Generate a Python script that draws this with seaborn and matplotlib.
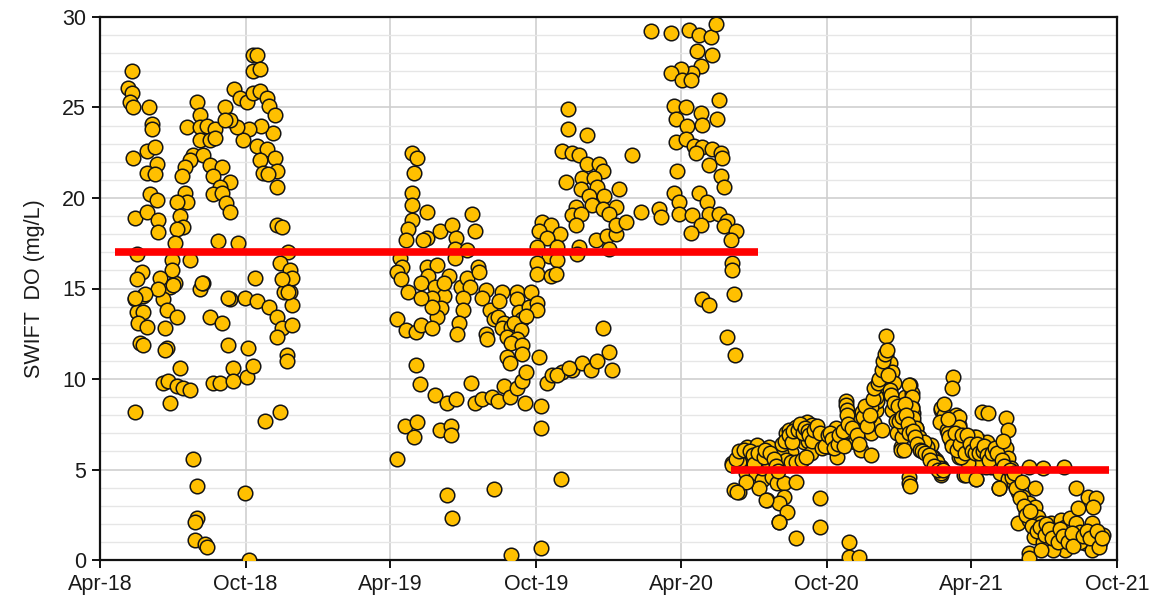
import numpy as np
import pandas as pd
import matplotlib
matplotlib.use("Agg")
import matplotlib.pyplot as plt
import matplotlib.dates as mdates
from matplotlib.ticker import MultipleLocator
import seaborn as sns

START = pd.Timestamp("2018-04-01")

# ---- data: days since 1 Apr 2018, SWIFT DO (mg/L) ----
days_2018 = [40, 35, 40, 38, 41, 62, 65, 65, 59, 69, 41, 72, 59, 69, 63, 72, 44, 59, 73, 73, 46, 44, 54, 46, 54,
             48, 59, 50, 54, 44, 78, 88, 94, 79, 84, 97, 82, 84, 82, 100, 79, 85, 97, 104, 113, 88, 117, 122, 122,
             119, 119, 132, 134, 126, 129, 163, 182, 197, 138, 153, 161, 186, 142, 151, 167, 167, 185, 192, 207,
             226, 182, 188, 213, 222, 232, 239, 241, 229, 241, 223, 235, 235, 122, 126, 110, 126, 134, 144, 126,
             138, 144, 157, 169, 176, 185, 192, 201, 210, 213, 220, 217, 203, 188, 180, 172, 163, 157, 192, 198,
             192, 201, 117, 129, 113, 107, 103, 138, 154, 142, 163, 151, 142, 154, 107, 109, 97, 100, 104, 97, 159,
             163, 198, 210, 220, 201, 222, 205, 211, 223, 223, 229, 94, 148, 173, 236, 226, 239, 241, 229, 236, 90,
             90, 113, 53, 46, 75, 73, 92, 128, 195, 161, 56, 44]
do_2018 = [27.0, 26.1, 25.8, 25.3, 25.0, 25.0, 24.1, 23.8, 22.6, 22.8, 22.2, 21.9, 21.4, 21.3, 20.2, 19.9, 18.9,
           19.2, 18.8, 18.1, 16.9, 14.4, 14.6, 13.7, 13.7, 13.1, 12.9, 12.0, 11.9, 8.2, 15.2, 15.1, 15.3, 14.4,
           13.8, 13.4, 12.8, 11.7, 11.6, 10.6, 9.8, 9.9, 9.6, 9.5, 9.4, 8.7, 5.6, 4.1, 2.3, 2.1, 1.1, 0.9, 0.7,
           15.0, 15.3, 14.4, 14.5, 14.3, 13.4, 13.1, 11.9, 11.7, 9.8, 9.8, 10.6, 9.9, 10.1, 10.7, 7.7, 8.2, 3.7,
           0.0, 14.0, 13.4, 14.8, 14.8, 14.1, 12.8, 13.0, 12.3, 11.3, 11.0, 25.3, 24.6, 23.9, 23.9, 24.0, 23.8,
           23.2, 23.2, 23.3, 25.0, 26.0, 25.5, 25.3, 25.8, 25.9, 25.5, 25.1, 24.6, 23.6, 24.0, 23.8, 23.2, 23.9,
           24.3, 24.3, 27.9, 27.9, 27.0, 27.1, 22.4, 22.4, 22.1, 21.7, 21.2, 21.8, 21.7, 21.2, 20.9, 20.6, 20.2,
           20.3, 20.3, 19.8, 19.8, 19.0, 18.4, 18.3, 19.7, 19.2, 22.9, 22.7, 22.2, 22.1, 21.5, 21.4, 21.3, 20.6,
           18.5, 18.4, 17.5, 17.6, 17.5, 17.0, 16.4, 16.0, 15.6, 15.5, 14.8, 16.6, 16.0, 16.6, 15.9, 15.5, 15.6,
           15.0, 15.2, 15.3, 15.6, 14.5, 14.7, 14.5]

days_2019 = [392, 399, 395, 393, 392, 392, 387, 385, 411, 411, 406, 427, 443, 448, 468, 471, 446, 461, 446, 377,
             380, 374, 379, 387, 411, 424, 412, 404, 421, 433, 439, 433, 417, 429, 424, 417, 404, 454, 461, 475,
             477, 465, 456, 456, 452, 449, 486, 480, 490, 496, 486, 487, 505, 502, 500, 508, 505, 517, 512, 525,
             525, 527, 531, 521, 530, 524, 517, 531, 531, 542, 540, 549, 549, 536, 374, 385, 398, 404, 418, 398,
             402, 421, 436, 448, 467, 471, 481, 493, 500, 508, 515, 525, 531, 536, 534, 512, 515, 552, 555, 555,
             383, 399, 395, 427, 442, 442, 374, 436, 443, 496, 517, 555]
do_2019 = [22.5, 22.2, 21.4, 20.3, 19.6, 18.8, 18.3, 17.7, 19.2, 17.8, 17.7, 18.2, 18.5, 17.8, 19.1, 18.2, 17.2,
           17.1, 16.7, 16.7, 16.2, 15.9, 15.5, 14.8, 16.2, 16.3, 15.7, 15.3, 15.1, 14.6, 15.7, 15.3, 14.5, 13.9,
           13.4, 14.0, 14.5, 15.1, 15.6, 16.2, 15.9, 15.1, 14.5, 13.8, 13.1, 12.5, 14.9, 14.5, 13.8, 13.3, 12.5,
           12.2, 14.8, 14.3, 13.4, 13.1, 12.8, 12.9, 12.3, 14.8, 14.4, 13.7, 13.3, 13.1, 12.7, 12.2, 12.0, 11.9,
           11.4, 14.8, 14.0, 14.2, 13.8, 13.5, 13.3, 12.7, 12.6, 13.0, 12.8, 10.8, 9.7, 9.1, 8.7, 8.9, 9.8, 8.7,
           8.9, 9.0, 8.8, 9.6, 9.0, 9.5, 9.9, 10.4, 8.7, 11.2, 10.9, 11.2, 8.5, 7.3, 7.4, 7.6, 6.8, 7.2, 7.4, 6.9,
           5.6, 3.6, 2.3, 3.9, 0.3, 0.66]

days_2020a = [556, 567, 578, 552, 562, 550, 575, 565, 575, 550, 550, 567, 574,
              588, 588, 613, 581, 594, 603, 669, 586, 613, 628, 632, 606, 621, 605, 625, 634, 615, 653, 599, 619,
              632, 649, 593, 605, 640, 599, 624, 637, 649, 649, 662, 680, 703, 706, 603, 600, 640,
              562, 569, 581, 594, 606, 618, 625, 640, 644, 633, 575, 590, 580,
              693, 718, 741, 753, 768, 775, 770, 751, 756, 745, 731, 718, 732, 743, 722, 737, 756, 724, 738, 757,
              778, 776, 724, 737, 747, 757, 770, 781, 782, 750, 766, 726, 781, 785, 722, 728, 753, 763, 728, 745,
              766, 778, 756, 743, 788, 785, 800, 793, 795, 795, 797, 757, 766, 788, 798]
do_2020a = [18.65, 18.5, 18.0, 18.2, 17.8, 17.3, 17.3, 16.8, 16.6, 16.4, 15.8, 15.7, 15.8,
            24.9, 23.8, 23.5, 22.6, 22.5, 22.4, 22.4, 20.9, 21.9, 21.9, 21.5, 21.1, 21.1, 20.5, 20.6, 20.1, 20.1,
            20.5, 19.5, 19.6, 19.4, 19.5, 19.05, 19.1, 19.1, 18.5, 17.7, 17.9, 18.0, 18.5, 18.65, 19.2, 19.4,
            18.95, 17.3, 16.9, 17.2,
            9.8, 10.2, 10.4, 10.5, 10.9, 10.5, 11.0, 11.5, 10.5, 12.8, 10.2, 10.6, 4.5,
            29.2, 29.1, 29.3, 29.0, 28.9, 29.6, 27.9, 28.1, 27.3, 26.9, 27.1, 26.9, 26.5, 26.5, 25.1, 25.0, 24.7,
            24.35, 23.96, 24.06, 25.4, 24.35, 23.07, 23.27, 22.9, 22.8, 22.7, 22.5, 22.2, 22.5, 21.8, 21.5, 21.2,
            20.6, 20.3, 19.8, 20.3, 19.8, 19.1, 19.05, 19.1, 19.1, 18.5, 18.06, 18.75, 18.46, 18.16, 17.7, 16.4,
            16.0, 14.7, 14.4, 14.1, 12.3, 11.3]

days_2020b = [795, 807, 814, 826, 839, 841, 816, 829, 804, 812, 797, 804, 825, 832, 829, 839, 832, 841, 845, 851,
              860, 860, 854, 864, 854, 875, 875, 869, 856, 863, 869, 875, 863, 866, 875, 883, 889, 895, 879, 885,
              891, 900, 904, 910, 901, 894, 883, 888, 906, 906, 914, 919, 925, 927, 933, 939, 938, 938, 939, 944,
              948, 945, 950, 957, 969, 942, 942, 954, 958, 963, 964, 969, 973, 976, 977, 979, 982, 983, 986, 988,
              992, 989, 994, 996, 998, 983, 989, 976, 970, 967,
              996, 1001, 1002, 1007, 1008, 1011, 1007, 1013, 1019, 1021, 1021, 1023, 1023, 1026, 1027, 1032, 1040,
              1017, 1017, 1007, 1011, 1046, 1052, 1058, 1063, 1058, 1063, 1067,
              1073, 1071, 1058, 1061, 1057, 1065, 1070, 1077, 1080, 1045, 1048, 1055, 1058, 1086, 1102, 1089, 1099,
              1107, 1115, 1120, 1092, 1105, 1080, 1096, 1109, 1126, 1132, 1140, 1142, 1109, 1117, 1139, 1142, 1121,
              1132, 1130, 1142, 1149, 1155, 1146, 1168, 1186, 1212, 1176, 1161, 1168, 1176, 1164, 1155, 1168, 1180,
              1184, 1174, 1186, 1168, 1168, 1196, 1202, 1209, 1214, 1220, 1227, 1233, 1227, 1214, 1199, 1184, 1228,
              1230, 1243, 1252, 1249, 1247, 1262, 1258, 1239, 1247, 1233,
              1033, 1040, 1051, 1057, 1058, 1067, 1071, 1080, 1080, 1102, 1114, 1124, 1105, 1092, 1083, 1089, 1102,
              1130, 1017, 1021, 1021, 1023, 1026, 1030, 1036, 1046, 1052, 1057, 1019,
              795, 812, 801, 837, 854,
              800, 803, 810, 818, 821, 823, 828, 835, 836, 843, 848, 850, 853, 858, 861, 867, 870, 872, 878, 880,
              884, 886, 890, 892, 896, 898, 902, 905, 908, 912, 916, 918, 921, 923, 928, 930, 935, 936,
              940, 941, 946, 952, 955, 960, 962, 965, 968, 972, 974, 978, 980, 984, 985, 987, 990, 991, 993, 995,
              999, 1003, 1005, 1009, 1012, 1014, 1016, 1018, 1022, 1025, 1028, 1031, 1034, 1038, 1042, 1044, 1049,
              1054, 1060,
              1062, 1066, 1068, 1072, 1075, 1078, 1082, 1084, 1088, 1090, 1094, 1097, 1100, 1103, 1106, 1110, 1112,
              1116, 1118, 1122, 1125, 1128, 1134, 1136, 1137,
              1144, 1147, 1150, 1152, 1157, 1159, 1162, 1165, 1170, 1172, 1178, 1182, 1188, 1190, 1193, 1197, 1205,
              1207, 1211, 1217, 1222, 1224, 1236, 1241, 1245, 1254, 1256, 1260]
do_2020b = [5.36, 5.9, 6.25, 6.35, 5.97, 6.25, 5.64, 5.64, 5.4, 4.8, 3.87, 3.76, 4.8, 4.4, 4.0, 3.3, 5.1, 5.36,
            4.6, 4.25, 4.25, 3.5, 3.15, 2.65, 2.1, 1.2, 4.3, 5.97, 5.9, 5.5, 5.4, 5.4, 7.0, 7.2, 7.35, 7.46, 7.6,
            7.46, 6.8, 6.5, 6.6, 7.07, 6.8, 6.5, 6.25, 5.9, 5.5, 5.7, 3.4, 1.82, 6.5, 6.25, 7.3, 5.7, 6.6, 6.8,
            8.8, 8.56, 8.3, 7.9, 7.57, 7.07, 6.5, 6.07, 5.8, 1.0, 0.17, 0.17, 8.2, 7.7, 7.2, 7.0, 7.57, 8.3, 8.8,
            9.3, 9.67, 9.9, 10.3, 10.6, 10.9, 11.3, 10.9, 10.4, 9.8, 7.2, 12.4, 9.0, 8.46, 7.9,
            8.3, 7.7, 7.0, 6.25, 6.8, 7.35, 8.8, 9.0, 9.67, 9.2, 8.46, 8.1, 7.6, 7.3, 6.9, 6.6, 6.35,
            4.6, 4.25, 6.07, 6.07, 5.64, 5.36, 5.14, 7.57, 8.3, 7.9, 7.2,
            10.1, 9.5, 8.4, 8.0, 7.6, 7.2, 6.6, 8.0, 7.46, 6.35, 5.7, 5.14, 4.7, 4.7, 4.5, 6.6, 6.8, 6.6, 6.5,
            6.07, 6.2, 6.2, 5.7, 5.7, 5.64, 5.64, 6.07, 6.2, 5.64, 8.2, 8.1, 7.85, 7.2, 5.14, 4.8, 4.0, 4.5, 4.25,
            3.76, 5.08, 5.14, 5.08, 5.14, 3.98, 3.5, 3.15, 2.93, 2.65, 2.04, 2.2, 2.38, 2.04, 1.27, 1.0, 0.39,
            0.11, 2.04, 1.49, 2.2, 1.82, 2.32, 2.04, 1.55, 1.1, 0.55, 0.55, 0.55, 4.0, 2.87, 3.5, 3.4, 2.93, 2.04,
            1.38, 1.0, 0.94, 0.55, 1.0,
            6.25, 6.25, 5.5, 5.1, 4.8, 7.0, 6.5, 7.9, 7.35, 6.8, 5.14, 5.4, 5.5, 5.36, 5.7, 4.7, 4.5, 4.0, 9.67,
            9.0, 8.4, 7.85, 7.3, 6.8, 6.5, 5.7, 5.4, 5.08, 4.1,
            5.25, 4.3, 3.76, 3.3, 2.1,
            5.6, 6.0, 6.1, 6.0, 5.8, 5.3, 5.9, 5.7, 6.1, 5.9, 5.6, 5.2, 4.9, 6.4, 6.6, 6.9, 6.5, 7.1, 7.2, 7.5,
            7.0, 7.3, 7.1, 6.9, 6.6, 7.2, 7.4, 7.0, 6.2, 6.3, 6.9, 7.0, 6.7, 6.2, 6.4, 6.9, 7.1, 6.3,
            8.0, 7.5, 7.3, 6.9, 6.4, 7.9, 8.5, 7.4, 8.0, 8.9, 9.5, 9.8, 10.0, 10.5, 11.0, 11.4, 11.6, 10.2, 9.4,
            9.1,
            8.7, 8.5, 7.7, 7.9, 8.6, 8.0, 7.5, 7.0, 7.1, 6.8, 6.4, 6.1, 6.0, 5.9, 5.8, 5.5, 5.2, 5.0, 5.0,
            8.6, 7.8, 6.8, 6.3, 7.0, 6.1, 6.4, 6.9, 5.9, 6.9, 6.4, 6.0, 5.9, 6.4, 5.9, 6.0, 6.3, 5.8, 5.5, 5.9,
            6.2, 5.9, 5.5, 6.6, 5.2,
            5.0, 4.6, 4.8, 4.0, 3.4, 4.3, 3.0, 2.5, 2.7, 1.9, 1.6, 1.8, 1.4, 2.0, 1.7, 1.2, 1.0, 1.7, 1.3, 1.0,
            1.5, 0.8, 1.3, 1.6, 1.2, 1.6, 0.7, 1.2]

# reference (mean) lines
ref_levels = [17.0, 5.0]
ref_starts = ["2018-04-20", "2020-06-03"]
ref_ends = ["2020-07-07", "2021-09-21"]

x_ticks = pd.date_range("2018-04-01", "2021-10-01", freq="6MS")

# ---- build frame ----
days = days_2018 + days_2019 + days_2020a + days_2020b
vals = do_2018 + do_2019 + do_2020a + do_2020b
df = pd.DataFrame({"date": START + pd.to_timedelta(days, unit="D"), "do": vals})

sns.set_theme(style="white")
plt.rcParams["font.family"] = ["Liberation Sans", "DejaVu Sans"]

fig = plt.figure(figsize=(11.52, 6.04), dpi=100)
ax = fig.add_axes([100 / 1152, 1 - 560 / 604, 1017 / 1152, 543 / 604])

sns.scatterplot(data=df, x="date", y="do", ax=ax, s=110, color="#FFC000",
                edgecolor="#141414", linewidth=1.1, zorder=3, legend=False)

for lvl, s0, s1 in zip(ref_levels, ref_starts, ref_ends):
    ax.hlines(lvl, pd.Timestamp(s0), pd.Timestamp(s1), color="#FF0000", linewidth=5.5, zorder=4)

ax.set_xlim(x_ticks[0], x_ticks[-1])
ax.set_ylim(0, 30)
ax.set_xticks(x_ticks)
ax.xaxis.set_major_formatter(mdates.DateFormatter("%b-%y"))
ax.yaxis.set_major_locator(MultipleLocator(5))
ax.yaxis.set_minor_locator(MultipleLocator(1))

ax.grid(True, which="major", axis="both", color="#cfcfcf", linewidth=1.2, zorder=0)
ax.grid(True, which="minor", axis="y", color="#e6e6e6", linewidth=1.0, zorder=0)
ax.set_axisbelow(True)

for sp in ax.spines.values():
    sp.set_visible(True)
    sp.set_color("#111111")
    sp.set_linewidth(1.6)

ax.tick_params(axis="both", which="major", direction="out", length=6, width=1.4, color="#111111",
               labelsize=15.5, labelcolor="#1a1a1a", bottom=True, left=True, pad=4)
ax.tick_params(axis="y", which="minor", length=0)
ax.set_xlabel("")
ax.set_ylabel("SWIFT  DO (mg/L)", fontsize=15.5, color="#1a1a1a", labelpad=12)

fig.savefig("out.png", dpi=100, facecolor="white")
